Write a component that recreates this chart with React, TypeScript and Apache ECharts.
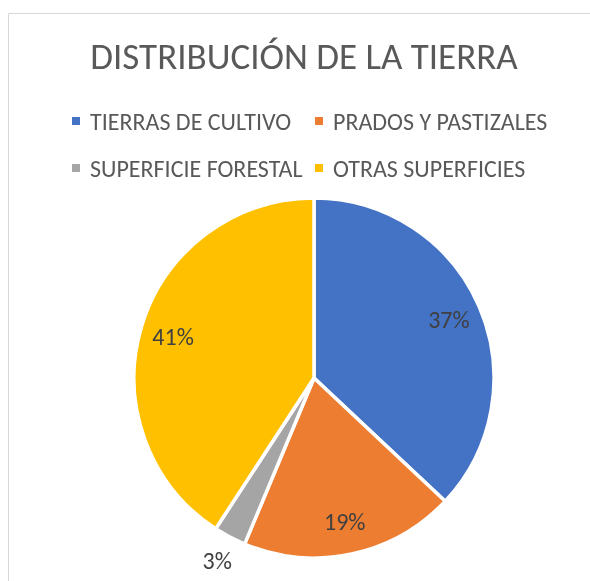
import React, { useEffect, useRef } from "react";
import * as echarts from "echarts";

const titleText = "DISTRIBUCIÓN DE LA TIERRA";
const categories = ["TIERRAS DE CULTIVO", "PRADOS Y PASTIZALES", "SUPERFICIE FORESTAL", "OTRAS SUPERFICIES"];
const values = [37.0, 19.3, 2.9, 40.8];
const colors = ["#4472C4", "#ED7D31", "#A5A5A5", "#FFC000"];

const FONT = "Carlito, Calibri, 'Open Sans', sans-serif";

export default function App() {
  const ref = useRef<HTMLDivElement>(null);
  useEffect(() => {
    if (!ref.current) return;
    const chart = echarts.init(ref.current, undefined, { renderer: "svg" });
    const data = categories.map((name, i) => ({ name, value: values[i], itemStyle: { color: colors[i] } }));
    const legendPos = [
      { left: 67, top: 104 },
      { left: 310, top: 104 },
      { left: 67, top: 151 },
      { left: 310, top: 151 },
    ];
    const legends = categories.map((name, i) => ({
      data: [name],
      left: legendPos[i].left,
      top: legendPos[i].top,
      orient: "horizontal",
      icon: "path://M0,0H8V8H0Z",
      itemWidth: 18,
      itemHeight: 8,
      selectedMode: false,
      itemStyle: { borderWidth: 0 },
      textStyle: { color: "#595959", fontSize: 24, fontFamily: FONT },
    }));
    const pct = (p: any) => Math.round(p.percent) + "%";
    const ghost = (show: (i: number) => boolean) =>
      categories.map((name, i) => ({
        name,
        value: values[i],
        itemStyle: { color: "rgba(0,0,0,0)", borderWidth: 0 },
        label: { show: show(i) },
      }));
    chart.setOption({
      animation: false,
      color: colors,
      title: {
        text: titleText,
        left: 299,
        top: 33,
        textAlign: "center",
        textStyle: { color: "#595959", fontSize: 37, fontWeight: "normal", fontFamily: FONT },
      },
      legend: legends,
      graphic: [
        {
          type: "rect",
          shape: { x: 8.5, y: 13.5, width: 700, height: 700 },
          style: { fill: "none", stroke: "#D9D9D9", lineWidth: 1 },
          silent: true,
        },
      ],
      series: [
        {
          type: "pie",
          center: [314, 378],
          radius: 180,
          startAngle: 90,
          clockwise: true,
          data,
          itemStyle: { borderColor: "#ffffff", borderWidth: 3.5 },
          label: { show: false },
          labelLine: { show: false },
          silent: true,
        },
        {
          type: "pie",
          center: [314, 378],
          radius: 288,
          startAngle: 90,
          clockwise: true,
          data: ghost((i) => i !== 2),
          label: { position: "inside", formatter: pct, color: "#404040", fontSize: 24, fontFamily: FONT },
          labelLine: { show: false },
          silent: true,
          legendHoverLink: false,
        },
        {
          type: "pie",
          center: [314, 378],
          radius: 408,
          startAngle: 90,
          clockwise: true,
          data: ghost((i) => i === 2),
          label: { position: "inside", formatter: pct, color: "#404040", fontSize: 24, fontFamily: FONT },
          labelLine: { show: false },
          silent: true,
          legendHoverLink: false,
        },
      ],
    });
    return () => chart.dispose();
  }, []);
  return <div ref={ref} style={{ position: "fixed", left: 0, top: 0, width: 590, height: 581 }} />;
}
